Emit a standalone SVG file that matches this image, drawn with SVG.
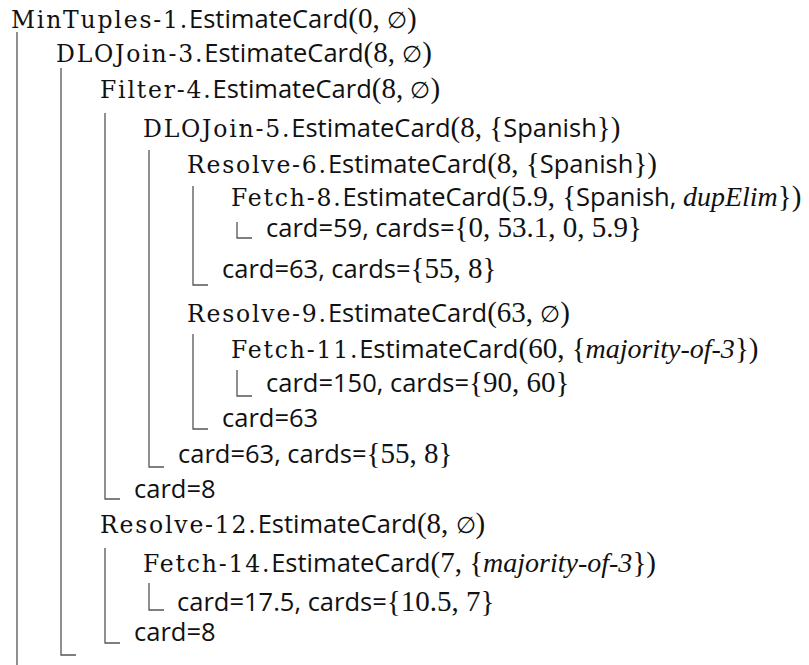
<svg xmlns="http://www.w3.org/2000/svg" width="809" height="665" viewBox="0 0 809 665">
  <style>
    text { font-size: 25px; fill: #111; }
    .op { font-family: "DejaVu Serif", serif; font-size: 23.5px; letter-spacing: 1.8px; }
    .sf { font-family: "Open Sans", "Noto Sans", sans-serif; font-size: 25.5px; }
    .rm { font-family: "Liberation Serif", "DejaVu Serif", serif; font-size: 29px; }
    .it { font-family: "Liberation Serif", serif; font-style: italic; font-size: 28px; }
    .es { font-family: "DejaVu Serif", serif; font-size: 23px; }
    .bar { fill: none; stroke: #555; stroke-width: 1.3; }
  </style>
  <rect width="809" height="665" fill="#fff"/>

  <!-- tree guide lines: one bracket per child block -->
  <g id="connectors">
    <path class="bar" d="M17 32 V665"/>
    <path class="bar" d="M61 68 V655 H76"/>
    <path class="bar" d="M105 113 V499 H120"/>
    <path class="bar" d="M149 150 V467 H164"/>
    <path class="bar" d="M193 186 V285 H208"/>
    <path class="bar" d="M237 222 V238 H252"/>
    <path class="bar" d="M193 334 V429 H208"/>
    <path class="bar" d="M237 370 V396 H252"/>
    <path class="bar" d="M105 548 V643 H120"/>
    <path class="bar" d="M149 583 V610 H164"/>
  </g>

  <g id="mintuples-1">
    <text x="11" y="28"><tspan class="op">MinTuples-1.</tspan><tspan class="sf">EstimateCard</tspan><tspan class="rm">(0, </tspan><tspan class="es">∅</tspan><tspan class="rm">)</tspan></text>
  </g>
  <g id="dlojoin-3">
    <text x="56" y="62"><tspan class="op">DLOJoin-3.</tspan><tspan class="sf">EstimateCard</tspan><tspan class="rm">(8, </tspan><tspan class="es">∅</tspan><tspan class="rm">)</tspan></text>
    <text x="134" y="498"><tspan class="sf">card=8</tspan></text>
  </g>
  <g id="filter-4">
    <text x="100" y="98"><tspan class="op">Filter-4.</tspan><tspan class="sf">EstimateCard</tspan><tspan class="rm">(8, </tspan><tspan class="es">∅</tspan><tspan class="rm">)</tspan></text>
  </g>
  <g id="dlojoin-5">
    <text x="143" y="137"><tspan class="op">DLOJoin-5.</tspan><tspan class="sf">EstimateCard</tspan><tspan class="rm">(8, {</tspan><tspan class="sf">Spanish</tspan><tspan class="rm">})</tspan></text>
    <text x="178" y="463"><tspan class="sf">card=63, cards=</tspan><tspan class="rm">{55, 8}</tspan></text>
  </g>
  <g id="resolve-6">
    <text x="187" y="173"><tspan class="op">Resolve-6.</tspan><tspan class="sf">EstimateCard</tspan><tspan class="rm">(8, {</tspan><tspan class="sf">Spanish</tspan><tspan class="rm">})</tspan></text>
    <text x="222" y="278"><tspan class="sf">card=63, cards=</tspan><tspan class="rm">{55, 8}</tspan></text>
  </g>
  <g id="fetch-8">
    <text x="231" y="206"><tspan class="op">Fetch-8.</tspan><tspan class="sf">EstimateCard</tspan><tspan class="rm">(5.9, {</tspan><tspan class="sf">Spanish, </tspan><tspan class="it">dupElim</tspan><tspan class="rm">})</tspan></text>
    <text x="266" y="237"><tspan class="sf">card=59, cards=</tspan><tspan class="rm">{0, 53.1, 0, 5.9}</tspan></text>
  </g>
  <g id="resolve-9">
    <text x="187" y="322"><tspan class="op">Resolve-9.</tspan><tspan class="sf">EstimateCard</tspan><tspan class="rm">(63, </tspan><tspan class="es">∅</tspan><tspan class="rm">)</tspan></text>
    <text x="222" y="427"><tspan class="sf">card=63</tspan></text>
  </g>
  <g id="fetch-11">
    <text x="231" y="358"><tspan class="op">Fetch-11.</tspan><tspan class="sf">EstimateCard</tspan><tspan class="rm">(60, {</tspan><tspan class="it">majority-of-3</tspan><tspan class="rm">})</tspan></text>
    <text x="266" y="392"><tspan class="sf">card=150, cards=</tspan><tspan class="rm">{90, 60}</tspan></text>
  </g>
  <g id="resolve-12">
    <text x="100" y="533"><tspan class="op">Resolve-12.</tspan><tspan class="sf">EstimateCard</tspan><tspan class="rm">(8, </tspan><tspan class="es">∅</tspan><tspan class="rm">)</tspan></text>
    <text x="134" y="641"><tspan class="sf">card=8</tspan></text>
  </g>
  <g id="fetch-14">
    <text x="143" y="572"><tspan class="op">Fetch-14.</tspan><tspan class="sf">EstimateCard</tspan><tspan class="rm">(7, {</tspan><tspan class="it">majority-of-3</tspan><tspan class="rm">})</tspan></text>
    <text x="177" y="611"><tspan class="sf">card=17.5, cards=</tspan><tspan class="rm">{10.5, 7}</tspan></text>
  </g>
</svg>
